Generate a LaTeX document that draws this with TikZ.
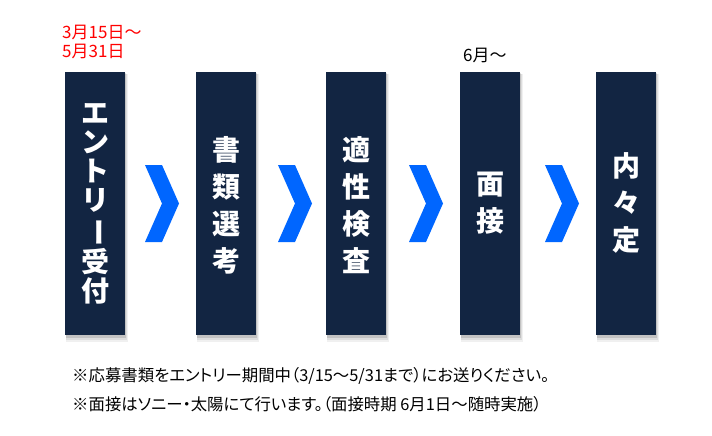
\documentclass[tikz,border=0pt]{standalone}
\usepackage{fontspec}
\usepackage{graphicx}
\newfontfamily\jp{Noto Sans CJK JP}
\newfontfamily\jpp{Noto Sans CJK JP}[RawFeature=+palt]
\definecolor{navy}{RGB}{18,37,66}
\definecolor{chev}{RGB}{0,102,255}
\definecolor{datered}{RGB}{255,0,0}
\tikzset{
  stepbox/.style={fill=navy, minimum width=60pt, minimum height=263pt, inner sep=0pt},
  steptext/.style={text=white, font=\jp\bfseries\fontsize{28}{37}\selectfont, align=center, inner sep=0pt},
  chevshape/.style={fill=chev},
  datelabel/.style={font=\jp\fontsize{17}{19}\selectfont, anchor=base west, inner sep=0pt, align=left},
  notetext/.style={font=\jpp\fontsize{16.4}{18}\selectfont, anchor=base west, inner sep=0pt},
}
\newcommand{\vbar}{\rotatebox[origin=c]{-90}{ー}}
\begin{document}
\begin{tikzpicture}[x=1pt,y=-1pt]
\useasboundingbox (0,0) rectangle (712,436);
\fill[white] (0,0) rectangle (712,436);
% boxes with shadows
\foreach \n/\x in {b1/65,b2/196,b3/326,b4/460,b5/596}{
  \fill[black,opacity=0.06] (\x+1,74) rectangle (\x+63,342);
  \fill[black,opacity=0.08] (\x+1,74) rectangle (\x+62,340);
  \fill[black,opacity=0.12] (\x+1,73) rectangle (\x+61,337.5);
  \node[stepbox, anchor=north west] (\n) at (\x,72) {};
}
\node[steptext, font=\jp\bfseries\fontsize{28}{29}\selectfont] (t1) at (b1.center) {エ\\ン\\ト\\リ\\\vbar\\受\\付};
\node[steptext] (t2) at ([yshift=-1.5pt]b2.center) {書\\類\\選\\考};
\node[steptext] (t3) at ([yshift=-1.5pt]b3.center) {適\\性\\検\\査};
\node[steptext] (t4) at ([yshift=1pt]b4.center) {面\\接};
\node[steptext] (t5) at ([yshift=1pt]b5.center) {内\\々\\定};
% chevrons
\foreach \x in {145,278,409,545}{
  \fill[chevshape] (\x,165) -- (\x+17,165) -- (\x+34,203.5) -- (\x+17,242) -- (\x,242) -- (\x+17,203.5) -- cycle;
}
% dates
\node[datelabel, text=datered] (d1) at (62,39) {3月15日～};
\node[datelabel, text=datered] (d2) at (62,58) {5月31日};
\node[datelabel] (d3) at (463,62) {6月～};
% notes
\node[notetext] (n1) at (72,381) {※応募書類をエントリー期間中（3/15～5/31まで）にお送りください。};
\node[notetext] (n2) at (72,410) {※面接はソニー・太陽にて行います。（面接時期 6月1日～随時実施）};
\end{tikzpicture}
\end{document}
